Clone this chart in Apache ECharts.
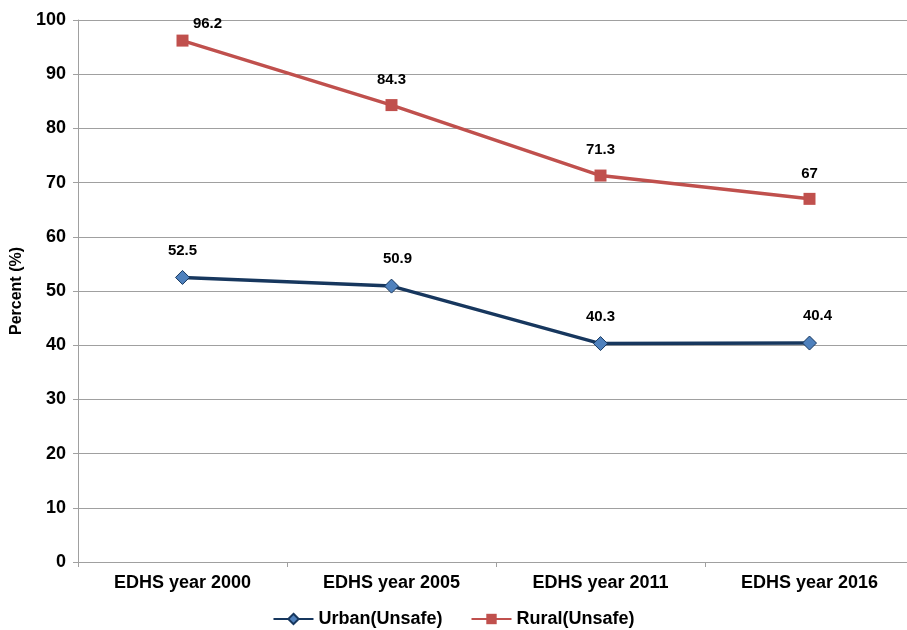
<!DOCTYPE html>
<html><head><meta charset="utf-8">
<script src="https://cdn.jsdelivr.net/npm/echarts@6/dist/echarts.min.js"></script>
<style>html,body{margin:0;padding:0;background:#fff}#c{width:907px;height:630px}</style>
</head><body><div id="c"></div>
<script>
const categories = ['EDHS year 2000','EDHS year 2005','EDHS year 2011','EDHS year 2016'];
const urban = [52.5, 50.9, 40.3, 40.4];
const rural = [96.2, 84.3, 71.3, 67];
const seriesNames = ['Urban(Unsafe)','Rural(Unsafe)'];
const yTicks = {min:0, max:100, interval:10};

// label offsets (styling only)
const urbanOffsets = [[0,0],[6,0],[0,0],[8,0]];
const ruralOffsets = [[25,9],[0,0],[0,0],[0,0]];

const chart = echarts.init(document.getElementById('c'), null, {renderer:'canvas'});
const font = 'Liberation Sans, Arial, sans-serif';
const labelStyle = {show:true, position:'top', distance:12, fontFamily:font, fontWeight:'bold', fontSize:15, color:'#000'};
const withOffsets = (vals, offs) => vals.map((v,i)=>({value:v, label:{offset:offs[i]}}));
chart.setOption({
  animation:false,
  backgroundColor:'#fff',
  grid:{left:78, right:-7, top:20, bottom:68, outerBoundsMode:'none'},
  legend:{top:605, left:'center', itemGap:28, itemWidth:40, itemHeight:13,
    textStyle:{fontFamily:font, fontWeight:'bold', fontSize:18, color:'#000'},
    data:seriesNames},
  xAxis:{type:'category', data:categories, boundaryGap:true,
    axisLine:{lineStyle:{color:'#a0a0a0', width:1}},
    axisTick:{show:true, length:5, lineStyle:{color:'#a0a0a0'}},
    axisLabel:{fontFamily:font, fontWeight:'bold', fontSize:18, color:'#000', margin:12}},
  yAxis:{type:'value', min:yTicks.min, max:yTicks.max, interval:yTicks.interval,
    name:'Percent (%)', nameLocation:'middle', nameGap:52, nameRotate:90,
    nameTextStyle:{fontFamily:font, fontWeight:'bold', fontSize:16, color:'#000'},
    axisLine:{show:true, lineStyle:{color:'#a0a0a0'}},
    axisTick:{show:true, length:5, lineStyle:{color:'#a0a0a0'}},
    axisLabel:{fontFamily:font, fontWeight:'bold', fontSize:18, color:'#000', margin:12},
    splitLine:{lineStyle:{color:'#a0a0a0', width:1}}},
  series:[
    {name:seriesNames[0], type:'line', data:withOffsets(urban, urbanOffsets), symbol:'diamond', symbolSize:14,
      lineStyle:{color:'#17375E', width:3.5},
      itemStyle:{color:'#4F81BD', borderColor:'#17375E', borderWidth:1},
      label:labelStyle},
    {name:seriesNames[1], type:'line', data:withOffsets(rural, ruralOffsets), symbol:'rect', symbolSize:12,
      lineStyle:{color:'#C0504D', width:3.5},
      itemStyle:{color:'#C0504D'},
      label:labelStyle}
  ]
});
</script></body></html>
